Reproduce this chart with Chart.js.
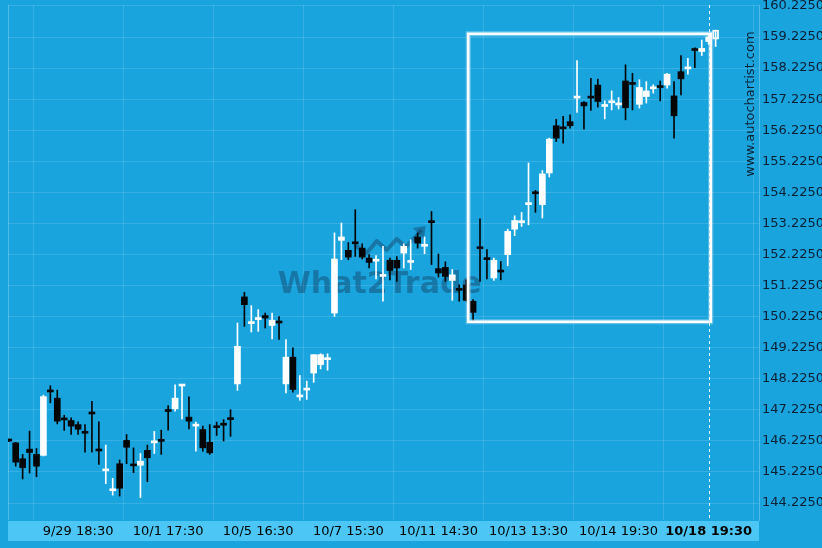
<!DOCTYPE html>
<html><head><meta charset="utf-8">
<script src="https://cdn.jsdelivr.net/npm/chart.js@4.4.0/dist/chart.umd.min.js"></script>
<style>html,body{margin:0;padding:0;background:#1aa4de;overflow:hidden}</style>
</head><body>
<canvas id="c" width="822" height="548"></canvas>
<script>
// candle positions: index of first candle in the arrays
const firstIndex = -1;
const opens = [146.26,146.16,145.65,145.96,145.79,145.76,147.84,147.60,146.94,146.88,146.75,146.51,147.13,145.94,145.26,144.62,145.49,146.24,145.46,145.44,145.92,
  146.16,146.25,147.21,147.26,147.99,146.99,146.70,146.59,146.18,146.69,146.77,146.95,148.06,150.86,150.00,150.13,150.26,149.94,150.06,148.06,
  148.92,147.64,147.86,148.41,148.68,148.84,150.34,152.68,152.36,152.61,152.43,152.11,152.01,151.52,152.04,152.04,152.27,151.97,152.79,152.49,
  153.29,151.77,151.81,151.39,151.11,151.24,150.72,152.45,152.10,151.47,151.70,152.22,153.04,153.25,153.83,154.22,153.83,154.85,156.37,156.31,
  156.50,157.26,157.12,157.30,157.68,156.99,157.11,157.04,157.81,157.74,157.06,157.31,157.56,157.64,157.68,157.33,158.11,158.20,158.83,158.76,
  159.08,159.16];
const highs = [146.28,146.18,145.79,146.54,145.98,147.70,148.00,147.86,147.05,146.97,146.84,146.75,147.50,146.84,146.09,145.02,145.61,146.43,146.00,145.82,146.09,
  146.53,146.57,147.36,148.03,148.03,147.64,146.83,146.70,146.75,146.83,146.91,147.23,150.02,151.01,150.58,150.45,150.34,150.34,150.23,149.49,
  149.22,148.33,148.15,149.00,149.03,149.03,152.92,153.24,152.61,153.67,152.57,152.22,152.19,152.49,152.11,152.16,152.57,152.70,152.92,152.79,
  153.61,152.24,151.99,151.74,151.25,151.41,150.77,153.37,152.38,152.11,152.00,153.04,153.47,153.58,155.17,154.29,154.93,155.97,156.58,156.67,
  156.72,158.47,157.15,157.90,157.87,157.17,157.49,157.28,158.33,158.06,157.85,157.79,157.69,157.81,158.06,157.79,158.63,158.54,158.88,159.13,
  159.29,159.45];
const lows = [146.20,145.41,145.00,145.19,145.07,145.74,147.45,146.77,146.56,146.43,146.43,145.86,145.86,145.47,144.85,144.48,144.45,145.49,145.20,144.40,144.91,
  145.82,145.79,146.57,147.18,146.93,146.61,145.89,145.89,145.79,146.40,146.22,146.37,147.85,149.91,149.73,149.75,149.86,149.51,149.49,147.77,
  147.79,147.53,147.56,148.11,148.54,148.50,150.23,152.06,152.06,152.16,152.08,151.79,151.44,150.72,151.41,151.36,151.79,151.74,152.43,152.25,
  151.90,151.50,151.36,150.75,150.72,150.72,150.10,151.36,151.44,151.39,151.41,151.86,152.83,153.13,153.18,153.58,153.40,154.72,155.86,155.81,
  156.29,156.80,156.26,156.86,156.97,156.59,156.88,156.91,156.56,156.88,156.94,157.10,157.42,157.17,157.58,155.97,157.36,158.03,158.24,158.63,
  158.99,158.92];
const closes = [146.22,145.54,145.36,145.85,145.41,147.65,147.80,146.86,146.90,146.70,146.60,146.47,147.09,145.90,145.30,144.66,144.70,146.02,145.42,145.57,145.68,
  146.20,146.21,147.17,147.60,148.02,146.86,146.74,146.00,145.84,146.65,146.73,146.91,149.27,150.61,150.04,150.17,150.18,150.11,150.02,148.92,
  147.88,147.68,147.90,149.00,149.00,148.88,152.08,152.79,152.14,152.57,152.14,151.97,152.05,151.56,151.71,151.79,152.49,152.01,152.59,152.53,
  153.25,151.63,151.52,151.57,151.07,150.75,150.36,152.41,152.06,152.04,151.66,152.97,153.32,153.29,153.87,154.18,154.82,155.94,155.97,156.27,
  156.37,157.30,157.01,157.26,157.15,157.03,157.15,157.08,156.95,157.70,157.60,157.49,157.60,157.60,158.03,156.69,157.88,158.24,158.79,158.86,
  159.23,159.45];

const priceTicks = [144.225,145.225,146.225,147.225,148.225,149.225,150.225,151.225,152.225,153.225,154.225,155.225,156.225,157.225,158.225,159.225,160.225];
const tickIndex = [9,22,35,48,61,74,87,100];
const tickLabels = ['9/29 18:30','10/1 17:30','10/5 16:30','10/7 15:30','10/11 14:30','10/13 13:30','10/14 19:30','10/18 19:30'];
const nowIndex = 100;
const boxIndex = [65.3,100.3];
const boxPrice = [150.06,159.33];

const BG = '#1aa4de', STRIP = '#4cc7f5', GRID = 'rgba(255,255,255,0.13)';
const n = opens.length;
const idx = opens.map((_, k) => k + firstIndex);
const last = n - 1;
const isUp = opens.map((o, k) => closes[k] >= o);
const bodyColor = isUp.map((u, k) => k === last ? 'rgba(0,0,0,0)' : (u ? '#ffffff' : '#050505'));
const wickColor = isUp.map((u, k) => (u || k === last) ? '#ffffff' : '#050505');

const deco = {
  id: 'deco',
  beforeDraw(chart) {
    const {ctx, chartArea: a} = chart;
    ctx.save();
    ctx.fillStyle = BG; ctx.fillRect(0, 0, chart.width, chart.height);
    ctx.fillStyle = STRIP; ctx.fillRect(a.left, a.bottom + 1, a.right - a.left, 20);
    ctx.restore();
  },
  beforeDatasetsDraw(chart) {
    const {ctx, chartArea: a} = chart;
    const w = a.right - a.left;
    const cx = a.left + w * 0.495, cy = a.top + 280;
    ctx.save();
    ctx.fillStyle = 'rgba(15,45,75,0.38)';
    ctx.font = 'bold 30px "DejaVu Sans"';
    ctx.textAlign = 'center'; ctx.textBaseline = 'middle';
    ctx.fillText('What2Trade', cx, cy);
    ctx.strokeStyle = 'rgba(15,45,75,0.38)'; ctx.lineWidth = 4; ctx.lineJoin = 'round';
    ctx.beginPath();
    const pts = [[-25,-40],[-13,-32],[-3,-44],[7,-35],[17,-46],[26,-38],[42,-55]];
    pts.forEach((p, k) => k ? ctx.lineTo(cx + p[0], cy + p[1]) : ctx.moveTo(cx + p[0], cy + p[1]));
    ctx.stroke();
    ctx.beginPath();
    ctx.moveTo(cx + 46, cy - 59); ctx.lineTo(cx + 33, cy - 57); ctx.lineTo(cx + 44, cy - 46); ctx.closePath();
    ctx.fillStyle = 'rgba(15,45,75,0.38)'; ctx.fill();
    ctx.strokeStyle = 'rgba(255,255,255,0.25)'; ctx.lineWidth = 1;
    ctx.beginPath(); ctx.moveTo(a.left + 0.5, a.top); ctx.lineTo(a.left + 0.5, a.bottom); ctx.stroke();
    ctx.restore();
  },
  afterDatasetsDraw(chart) {
    const {ctx, chartArea: a, scales: {x, y}} = chart;
    ctx.save();
    const nx = Math.round(x.getPixelForValue(nowIndex)) + 0.5;
    ctx.strokeStyle = 'rgba(255,255,255,0.9)'; ctx.lineWidth = 1; ctx.setLineDash([3, 3]);
    ctx.beginPath(); ctx.moveTo(nx, a.top); ctx.lineTo(nx, a.bottom); ctx.stroke();
    ctx.setLineDash([]);
    const x0 = x.getPixelForValue(boxIndex[0]), x1 = x.getPixelForValue(boxIndex[1]);
    const y0 = y.getPixelForValue(boxPrice[1]), y1 = y.getPixelForValue(boxPrice[0]);
    ctx.strokeStyle = 'rgba(255,255,255,0.35)'; ctx.lineWidth = 5;
    ctx.strokeRect(x0, y0, x1 - x0, y1 - y0);
    ctx.strokeStyle = '#ffffff'; ctx.lineWidth = 2.5;
    ctx.strokeRect(x0, y0, x1 - x0, y1 - y0);
    ctx.translate(751, 104); ctx.rotate(-Math.PI / 2);
    ctx.fillStyle = '#0b2235'; ctx.font = '13px "DejaVu Sans"';
    ctx.textAlign = 'center'; ctx.textBaseline = 'middle';
    ctx.fillText('www.autochartist.com', 0, 0);
    ctx.restore();
  }
};

new Chart(document.getElementById('c'), {
  type: 'bar',
  data: {
    datasets: [
      {
        label: 'body', order: 1,
        data: idx.map((i, k) => ({x: i, y: [opens[k], closes[k]]})),
        backgroundColor: bodyColor,
        borderColor: '#ffffff',
        borderWidth: idx.map((_, k) => k === last ? 1.2 : 0),
        borderSkipped: false,
        barThickness: 6, minBarLength: 2, grouped: false
      },
      {
        label: 'wick', order: 2,
        data: idx.map((i, k) => ({x: i, y: [lows[k], highs[k]]})),
        backgroundColor: wickColor,
        barThickness: 1, grouped: false
      }
    ]
  },
  options: {
    responsive: false, animation: false, devicePixelRatio: 1,
    layout: {padding: {left: 8, top: 5, right: 0, bottom: 0}},
    plugins: {legend: {display: false}, tooltip: {enabled: false}},
    scales: {
      x: {
        type: 'linear', min: -1.111, max: 107.26, offset: false,
        grid: {color: GRID, drawTicks: false},
        border: {display: false},
        afterBuildTicks: ax => { ax.ticks = tickIndex.map(v => ({value: v})); },
        afterFit: ax => { ax.height = 28; ax.paddingLeft = 0; ax.paddingRight = 0; },
        ticks: {
          autoSkip: false, maxRotation: 0, padding: 4, color: '#000',
          font: c => ({family: 'DejaVu Sans', size: 13, weight: (c.tick && c.tick.value === nowIndex) ? 'bold' : 'normal'}),
          callback: v => tickLabels[tickIndex.indexOf(v)]
        }
      },
      y: {
        position: 'right', min: 143.678, max: 160.257,
        grid: {color: GRID, drawTicks: false},
        border: {display: true, color: 'rgba(255,255,255,0.25)'},
        afterBuildTicks: ax => { ax.ticks = priceTicks.map(v => ({value: v})); },
        afterFit: ax => { ax.width = 63; ax.paddingTop = 0; ax.paddingBottom = 0; },
        ticks: {
          autoSkip: false, padding: 3, color: '#0b1f33',
          font: {family: 'DejaVu Sans', size: 13},
          callback: v => Number(v).toFixed(4)
        }
      }
    }
  },
  plugins: [deco]
});
</script>
</body></html>
